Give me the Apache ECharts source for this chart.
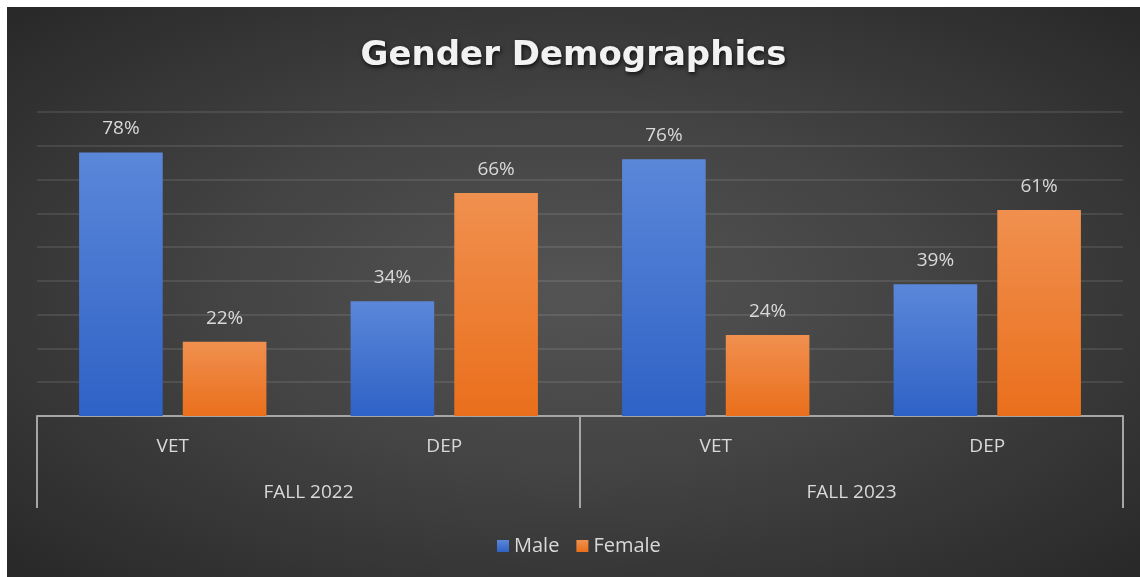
<!DOCTYPE html>
<html>
<head>
<meta charset="utf-8">
<script src="https://cdn.jsdelivr.net/npm/echarts@6/dist/echarts.min.js"></script>
<style>
  html, body { margin: 0; padding: 0; background: #ffffff; width: 1140px; height: 577px; overflow: hidden; }
  #chart {
    position: absolute; left: 7px; top: 7px; width: 1133px; height: 570px;
    background: radial-gradient(ellipse at 50% 50%, #545454 0%, #434343 45%, #282828 100%);
  }
</style>
</head>
<body>
<div id="chart"></div>
<script>
const categories = ['VET', 'DEP', 'VET', 'DEP'];
const terms = ['FALL 2022', 'FALL 2023'];
const maleValues = [78, 34, 76, 39];
const femaleValues = [22, 66, 24, 61];
const yTicks = { min: 0, max: 90, interval: 10 };

const chart = echarts.init(document.getElementById('chart'));
const textFont = '"Open Sans", "Noto Sans", sans-serif';
const lineColor = '#a6a6a6';

chart.setOption({
  backgroundColor: 'transparent',
  animation: false,
  title: {
    text: 'Gender Demographics',
    left: 'center',
    top: 27,
    textStyle: {
      fontFamily: '"DejaVu Sans", sans-serif',
      fontWeight: 'bold',
      fontSize: 34,
      color: '#f2f2f2',
      textShadowColor: 'rgba(0,0,0,0.75)',
      textShadowBlur: 4,
      textShadowOffsetX: 1,
      textShadowOffsetY: 2
    }
  },
  legend: {
    left: 490,
    top: 529,
    padding: 0,
    itemWidth: 12,
    itemHeight: 12,
    itemGap: 17,
    icon: 'rect',
    textStyle: { color: '#d9d9d9', fontSize: 20, fontFamily: textFont },
    data: ['Male', 'Female']
  },
  grid: { left: 30, right: 17, top: 105, bottom: 161 },
  xAxis: [
    {
      type: 'category',
      position: 'bottom',
      data: categories,
      axisLine: { show: true, lineStyle: { color: lineColor, width: 2 } },
      axisTick: { show: false },
      axisLabel: { color: '#d9d9d9', fontSize: 19, fontFamily: textFont, margin: 21 }
    },
    {
      type: 'category',
      position: 'bottom',
      data: terms,
      axisLine: { show: false },
      axisTick: { show: true, length: 92, lineStyle: { color: lineColor, width: 2 } },
      axisLabel: { color: '#d9d9d9', fontSize: 19, fontFamily: textFont, margin: 67 }
    }
  ],
  yAxis: {
    type: 'value',
    min: yTicks.min,
    max: yTicks.max,
    interval: yTicks.interval,
    axisLine: { show: false },
    axisTick: { show: false },
    axisLabel: { show: false },
    splitLine: { show: true, lineStyle: { color: 'rgba(255,255,255,0.13)', width: 1.5 } }
  },
  series: [
    {
      name: 'Male',
      type: 'bar',
      xAxisIndex: 0,
      data: maleValues,
      barCategoryGap: '31%',
      barGap: '24%',
      itemStyle: {
        color: new echarts.graphic.LinearGradient(0, 0, 0, 1, [
          { offset: 0, color: '#5b87d9' },
          { offset: 1, color: '#2f62c6' }
        ])
      },
      label: {
        show: true, position: 'top', distance: 14, formatter: '{c}%',
        color: '#d9d9d9', fontSize: 19, fontFamily: textFont
      }
    },
    {
      name: 'Female',
      type: 'bar',
      xAxisIndex: 0,
      data: femaleValues,
      barCategoryGap: '31%',
      barGap: '24%',
      itemStyle: {
        color: new echarts.graphic.LinearGradient(0, 0, 0, 1, [
          { offset: 0, color: '#f0904f' },
          { offset: 1, color: '#ea6f1c' }
        ])
      },
      label: {
        show: true, position: 'top', distance: 14, formatter: '{c}%',
        color: '#d9d9d9', fontSize: 19, fontFamily: textFont
      }
    }
  ]
});
</script>
</body>
</html>
